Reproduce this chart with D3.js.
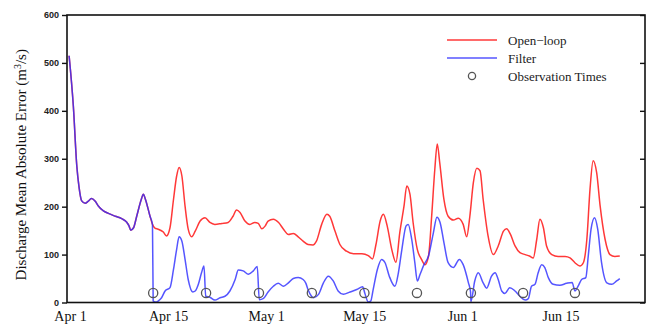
<!DOCTYPE html>
<html>
<head>
<meta charset="utf-8">
<script src="https://cdn.jsdelivr.net/npm/d3@7/dist/d3.min.js"></script>
<style>
  html, body { margin: 0; padding: 0; background: #fff; }
  svg { display: block; }
</style>
</head>
<body>
<svg id="chart" width="650" height="324"></svg>
<script>
// Days since Apr 1 and discharge mean absolute error (m^3/s).
// Both runs share the spin-up period before the first observation.
const spinUp = [
  [0.3, 515], [0.9, 411], [1.4, 285], [1.7, 243], [2.1, 212], [2.6, 207],
  [3.0, 211], [3.5, 217], [4.0, 212], [4.5, 201], [5.2, 191], [5.9, 186],
  [6.9, 180], [7.8, 175], [8.5, 168], [8.85, 160], [9.1, 151], [9.5, 156],
  [9.95, 180], [10.6, 215], [10.9, 226], [11.2, 215], [11.85, 180], [12.2, 163]
];

const openLoopRun = [
  [12.55, 155], [13.0, 153], [13.75, 147], [14.2, 139], [14.7, 156], [15.2, 215],
  [15.65, 264], [16.0, 282], [16.4, 264], [16.85, 201], [17.3, 153], [17.8, 137],
  [18.3, 149], [19.0, 170], [19.7, 177], [20.4, 167], [21.1, 163], [22.1, 165],
  [23.0, 167], [23.7, 180], [24.2, 193], [24.7, 188], [25.4, 170], [26.1, 163],
  [26.8, 167], [27.3, 165], [27.8, 154], [28.3, 160], [28.7, 170], [29.45, 174],
  [30.2, 167], [30.9, 153], [31.6, 142], [32.3, 144], [33.0, 137], [33.7, 128],
  [34.4, 121], [35.1, 120], [35.6, 128], [36.35, 163], [37.1, 184], [37.5, 180],
  [38.25, 149], [38.95, 121], [39.9, 107], [40.9, 102], [42.1, 102], [43.0, 98],
  [43.6, 91], [44.1, 121], [44.7, 170], [45.15, 184], [45.7, 160], [46.35, 111],
  [46.95, 84], [47.5, 146], [48.1, 201], [48.5, 243], [48.95, 226], [49.4, 167],
  [50.0, 111], [50.6, 90], [51.1, 79], [51.6, 97], [52.05, 180], [52.5, 278],
  [52.85, 331], [53.2, 292], [53.8, 215], [54.4, 180], [55.15, 172], [55.85, 176],
  [56.55, 163], [57.05, 137], [57.5, 180], [58.0, 250], [58.5, 280], [58.95, 275],
  [59.4, 215], [60.1, 139], [60.85, 100], [61.55, 118], [62.3, 149], [62.75, 154],
  [63.3, 142], [63.95, 118], [64.65, 104], [65.4, 100], [66.0, 97], [66.55, 93],
  [67.05, 132], [67.5, 174], [68.0, 156], [68.45, 118], [69.2, 100], [70.1, 96],
  [71.1, 96], [71.8, 93], [72.5, 83], [73.2, 76], [73.7, 83], [74.2, 132],
  [74.65, 236], [75.1, 296], [75.6, 271], [76.1, 201], [76.8, 132], [77.5, 100],
  [78.2, 96], [78.9, 97]
];

const filterRun = [
  [12.3, 3], [12.8, 1], [13.0, 3], [13.5, 10], [14.0, 24], [14.7, 31],
  [15.2, 69], [15.65, 111], [16.0, 137], [16.4, 128], [16.85, 90], [17.3, 48],
  [17.95, 22], [18.3, 24], [18.75, 38], [19.2, 62], [19.55, 76], [19.8, 13],
  [20.4, 11], [21.1, 5], [21.85, 10], [22.55, 13], [23.25, 24], [24.0, 48],
  [24.45, 68], [25.15, 66], [25.9, 59], [26.6, 66], [27.15, 75], [27.45, 6],
  [28.0, 8], [28.7, 22], [29.45, 34], [30.15, 40], [30.9, 34], [31.6, 41],
  [32.3, 50], [33.0, 52], [33.7, 48], [34.1, 40], [34.4, 27], [34.9, 13],
  [35.2, 10], [35.9, 17], [36.6, 41], [37.3, 55], [38.0, 45], [38.7, 24],
  [39.45, 17], [40.4, 22], [41.35, 27], [42.2, 33], [42.5, 20], [43.0, 1],
  [43.35, 3], [43.7, 27], [44.3, 69], [44.9, 90], [45.4, 83], [46.0, 55],
  [46.8, 34], [47.3, 62], [47.8, 111], [48.4, 160], [48.7, 163], [49.2, 132],
  [49.65, 83], [50.0, 45], [50.4, 59], [50.95, 79], [51.6, 97], [52.3, 146],
  [52.8, 178], [53.25, 167], [53.8, 125], [54.4, 83], [55.15, 73], [56.0, 90],
  [56.55, 79], [57.3, 41], [57.6, 22], [57.65, 2], [58.2, 45], [58.7, 62],
  [59.4, 41], [59.9, 30], [60.6, 55], [61.1, 62], [61.55, 48], [62.05, 24],
  [62.5, 19], [63.2, 31], [63.95, 24], [64.65, 13], [65.4, 5], [65.85, 8],
  [66.3, 34], [66.8, 38], [67.25, 62], [67.75, 79], [68.2, 73], [68.7, 52],
  [69.4, 38], [70.35, 36], [71.3, 40], [72.1, 42], [72.5, 24], [72.95, 34],
  [73.45, 48], [74.05, 52], [74.4, 97], [74.8, 153], [75.3, 177], [75.75, 153],
  [76.3, 83], [77.05, 41], [77.75, 38], [78.45, 45], [78.9, 50]
];

// Assimilation times (days since Apr 1) and the level their markers sit at
const obsTimes = [12.3, 19.85, 27.4, 34.95, 42.45, 49.95, 57.65, 65.1, 72.5];
const obsLevel = 20;

const xTickDays = [0, 14, 28, 42, 56, 70];
const xTickLabels = ["Apr 1", "Apr 15", "May 1", "May 15", "Jun 1", "Jun 15"];
const yTicks = [0, 100, 200, 300, 400, 500, 600];

const seriesNames = ["Open\u2212loop", "Filter", "Observation Times"];
const red = "#ff3838";
const blue = "#3030ff";

const svg = d3.select("#chart");
const plotLeft = 67, plotRight = 645, plotTop = 15, plotBottom = 302.5;

const x = d3.scaleLinear().domain([0, 82.5]).range([plotLeft, plotRight]);
const y = d3.scaleLinear().domain([0, 600]).range([plotBottom, plotTop]);

const line = d3.line()
  .x(d => x(d[0]))
  .y(d => y(d[1]))
  .curve(d3.curveMonotoneX);

// Runs
svg.append("path")
  .datum(spinUp.concat(openLoopRun))
  .attr("fill", "none")
  .attr("stroke", red)
  .attr("stroke-width", 1.5)
  .attr("stroke-linejoin", "round")
  .attr("d", line);

svg.append("path")
  .datum(spinUp.concat(filterRun))
  .attr("fill", "none")
  .attr("stroke", blue)
  .attr("stroke-opacity", 0.82)
  .attr("stroke-width", 1.5)
  .attr("stroke-linejoin", "round")
  .attr("d", line);

// Observation markers
svg.append("g")
  .selectAll("circle")
  .data(obsTimes)
  .join("circle")
  .attr("cx", d => x(d))
  .attr("cy", y(obsLevel))
  .attr("r", 4.6)
  .attr("fill", "none")
  .attr("stroke", "#555")
  .attr("stroke-width", 1.3);

// Frame
svg.append("rect")
  .attr("x", plotLeft).attr("y", plotTop)
  .attr("width", plotRight - plotLeft).attr("height", plotBottom - plotTop)
  .attr("fill", "none")
  .attr("stroke", "#111")
  .attr("stroke-width", 1.6);

// Left axis: outward ticks with labels
const yAxisLeft = d3.axisLeft(y).tickValues(yTicks).tickSize(5).tickPadding(3);
const gl = svg.append("g").attr("transform", `translate(${plotLeft},0)`).call(yAxisLeft);
gl.select(".domain").remove();
gl.selectAll(".tick line").attr("stroke", "#111").attr("stroke-width", 1.4);
gl.selectAll(".tick text")
  .attr("font-family", "'Liberation Sans', Arial, sans-serif")
  .attr("font-weight", "bold")
  .attr("font-size", 9)
  .attr("fill", "#222");

// Right axis: inward ticks, no labels
const yAxisRight = d3.axisLeft(y).tickValues(yTicks).tickSize(5).tickFormat("");
const gr = svg.append("g").attr("transform", `translate(${plotRight},0)`).call(yAxisRight);
gr.select(".domain").remove();
gr.selectAll(".tick line").attr("stroke", "#111").attr("stroke-width", 1.4);

// Bottom axis: date labels only
const xAxis = d3.axisBottom(x).tickValues(xTickDays).tickSize(0).tickPadding(0)
  .tickFormat((d, i) => xTickLabels[i]);
const gb = svg.append("g").attr("transform", `translate(0,${plotBottom})`).call(xAxis);
gb.select(".domain").remove();
gb.selectAll(".tick text")
  .attr("y", 18.5)
  .attr("dy", 0)
  .attr("dx", 3)
  .attr("font-family", "'Liberation Serif', 'Times New Roman', serif")
  .attr("font-size", 14)
  .attr("fill", "#111");

// Y axis title
const title = svg.append("text")
  .attr("transform", `translate(26,${(plotTop + plotBottom) / 2 + 6}) rotate(-90)`)
  .attr("text-anchor", "middle")
  .attr("font-family", "'Liberation Serif', 'Times New Roman', serif")
  .attr("font-size", 15)
  .attr("fill", "#111");
title.append("tspan").text("Discharge Mean Absolute Error (m");
title.append("tspan").attr("baseline-shift", "super").attr("font-size", 10).text("3");
title.append("tspan").text("/s)");

// Legend
const legend = svg.append("g").attr("transform", "translate(447,40)");
const rowGap = 18;
legend.append("line")
  .attr("x1", 0).attr("x2", 50).attr("y1", 0).attr("y2", 0)
  .attr("stroke", red).attr("stroke-width", 1.5);
legend.append("line")
  .attr("x1", 0).attr("x2", 50).attr("y1", rowGap).attr("y2", rowGap)
  .attr("stroke", blue).attr("stroke-opacity", 0.82).attr("stroke-width", 1.5);
legend.append("circle")
  .attr("cx", 25).attr("cy", rowGap * 2).attr("r", 3.6)
  .attr("fill", "none").attr("stroke", "#555").attr("stroke-width", 1.3);
legend.selectAll("text")
  .data(seriesNames)
  .join("text")
  .attr("x", 61)
  .attr("y", (d, i) => i * rowGap)
  .attr("dy", "0.35em")
  .attr("font-family", "'Liberation Serif', 'Times New Roman', serif")
  .attr("font-size", 13)
  .attr("fill", "#222")
  .text(d => d);
</script>
</body>
</html>
